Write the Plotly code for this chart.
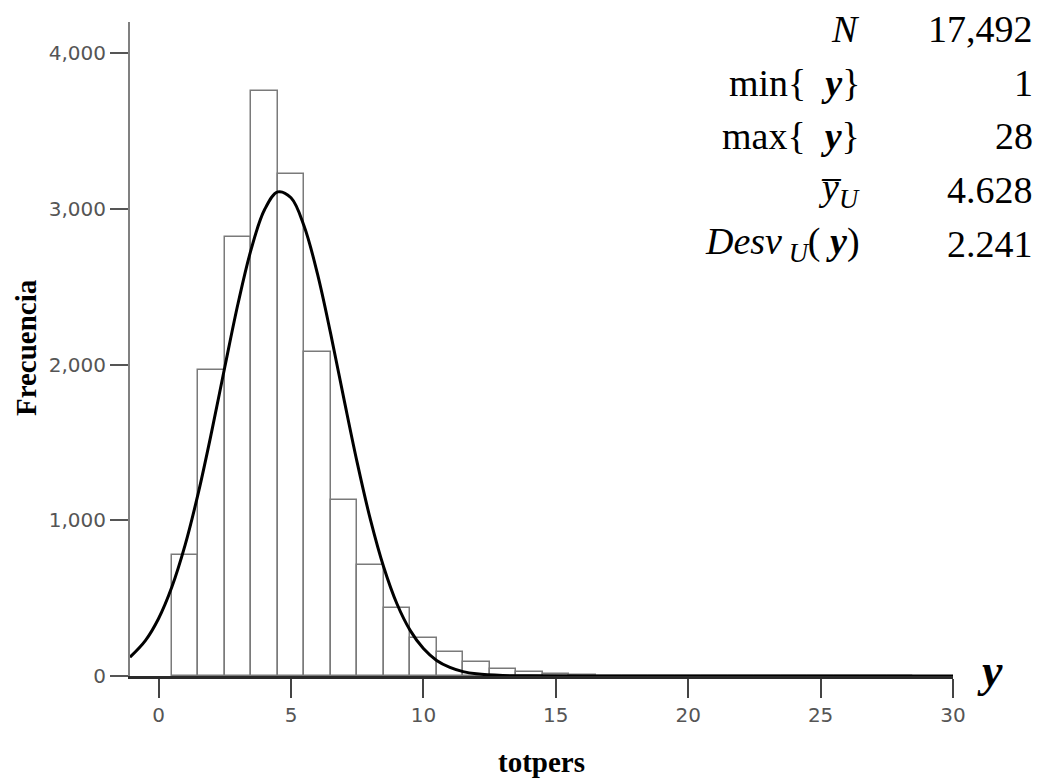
import plotly.graph_objects as go

# ---- data ----
bins = list(range(1, 29))
counts = [778, 1968, 2818, 3760, 3222, 2082, 1132, 714, 436, 242, 152, 88, 46, 27,
          12, 6, 3, 2, 1, 1, 0, 1, 0, 0, 0, 0, 0, 1]

curve_x = [-1.08, -0.5, 0, 0.5, 1, 1.5, 2, 2.5, 3, 3.5, 4, 4.5, 5, 5.5, 6, 6.5,
           7, 7.5, 8, 8.5, 9, 9.5, 10, 10.5, 11, 11.5, 12, 13, 14, 16, 20, 30]
curve_y = [121, 227, 369, 571, 840, 1176, 1566, 1984, 2392, 2743, 2994, 3109, 3071,
           2887, 2582, 2197, 1778, 1370, 1004, 700, 464, 293, 176, 100, 55, 28, 14, 3, 1, 0, 0, 0]

x_ticks = [0, 5, 10, 15, 20, 25, 30]
y_ticks = [0, 1000, 2000, 3000, 4000]

stat_labels = ["<i>N</i>", "min{&nbsp;&nbsp;<b><i>y</i></b>}", "max{&nbsp;&nbsp;<b><i>y</i></b>}",
               "<i>y\u0305</i><sub><i>U</i></sub>",
               "<i>Desv</i><sub>&nbsp;<i>U</i></sub>(&nbsp;<b><i>y</i></b>)"]
stat_values = ["17,492", "1", "28", "4.628", "2.241"]

x_title = "totpers"
y_title = "Frecuencia"

# ---- figure ----
fig = go.Figure()
fig.add_trace(go.Bar(
    x=bins, y=counts, width=1,
    marker=dict(color="white", line=dict(color="#7a7a7a", width=1.5)),
    showlegend=False, hoverinfo="x+y"))
fig.add_trace(go.Scatter(
    x=curve_x, y=curve_y, mode="lines",
    line=dict(color="black", width=3, shape="spline", smoothing=1),
    showlegend=False))

tick_font = dict(family="DejaVu Sans", size=20, color="#555555")

fig.update_xaxes(
    range=[-1.08, 30], tickvals=x_ticks, ticktext=[str(v) for v in x_ticks],
    showline=True, linecolor="#2a2a2a", linewidth=2.5,
    ticks="outside", ticklen=19, tickwidth=2, tickcolor="#444444",
    showgrid=False, zeroline=False, tickfont=tick_font)
fig.update_yaxes(
    range=[0, 4200], tickvals=y_ticks, tickformat=",d",
    showline=True, linecolor="#808080", linewidth=2,
    ticks="outside", ticklen=18, tickwidth=2, tickcolor="#555555",
    showgrid=False, zeroline=False, tickfont=tick_font)

annotations = []
row_y = [0.990, 0.907, 0.826, 0.743, 0.661]
stat_font = dict(family="Liberation Serif", size=38, color="#000000")
for lab, val, yy in zip(stat_labels, stat_values, row_y):
    annotations.append(dict(xref="paper", yref="paper", x=0.8894, y=yy, text=lab,
                            showarrow=False, xanchor="right", yanchor="middle", font=stat_font))
    annotations.append(dict(xref="paper", yref="paper", x=1.0996, y=yy, text=val,
                            showarrow=False, xanchor="right", yanchor="middle", font=stat_font))

annotations.append(dict(xref="paper", yref="paper", x=1.045, y=0.008, text="<b><i>y</i></b>",
                        showarrow=False, xanchor="center", yanchor="middle",
                        font=dict(family="Liberation Serif", size=46, color="#000000")))
annotations.append(dict(xref="paper", yref="paper", x=0.5, y=-0.1315, text="<b>" + x_title + "</b>",
                        showarrow=False, xanchor="center", yanchor="middle",
                        font=dict(family="Liberation Serif", size=29, color="#000000")))
annotations.append(dict(xref="paper", yref="paper", x=-0.1263, y=0.5015, text="<b>" + y_title + "</b>",
                        showarrow=False, xanchor="center", yanchor="middle", textangle=-90,
                        font=dict(family="Liberation Serif", size=29, color="#000000")))

fig.update_layout(
    width=1042, height=778,
    margin=dict(l=130, r=89, t=22, b=102),
    paper_bgcolor="white", plot_bgcolor="white",
    bargap=0, annotations=annotations, showlegend=False)

fig.write_html("out.html")
